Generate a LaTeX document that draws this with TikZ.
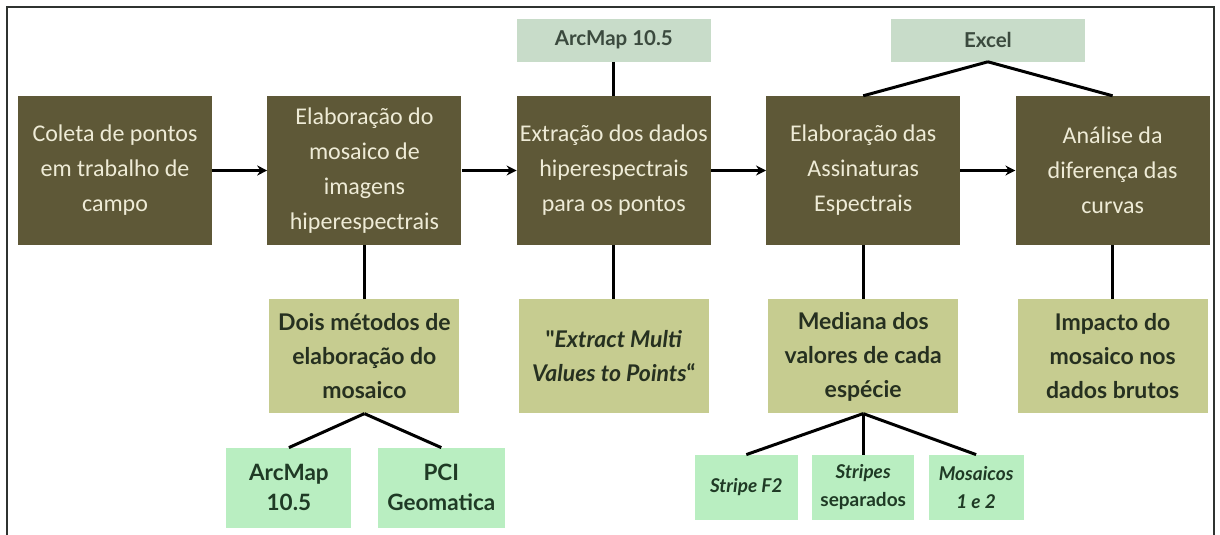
\documentclass[tikz,border=0pt]{standalone}
\usepackage{fontspec}
\setmainfont{Lato}
\newfontfamily\etapafont{Carlito}
\newfontfamily\aspasfont[Ligatures=NoCommon]{Lato}
\usetikzlibrary{arrows.meta,positioning,calc}
\definecolor{etapacor}{HTML}{5E5837}
\definecolor{etapatxt}{HTML}{EEEBD6}
\definecolor{softcor}{HTML}{C8DCC9}
\definecolor{softtxt}{HTML}{3B4A3E}
\definecolor{detcor}{HTML}{C6CC90}
\definecolor{dettxt}{HTML}{263020}
\definecolor{metcor}{HTML}{B9EEC1}
\definecolor{mettxt}{HTML}{1F3A25}
\definecolor{moldcor}{HTML}{2F3330}

\begin{document}
\begin{tikzpicture}[x=1pt,y=1pt,
node distance=55pt and 55pt,
etapa/.style={fill=etapacor,text=etapatxt,minimum width=194pt,minimum height=149pt,inner sep=0pt,align=center,font=\etapafont\fontsize{24}{35}\selectfont},
detalhe/.style={fill=detcor,text=dettxt,minimum width=190pt,minimum height=114pt,inner sep=0pt,align=center,font=\bfseries\fontsize{23}{34}\selectfont},
software/.style={fill=softcor,text=softtxt,minimum width=194pt,minimum height=43pt,inner sep=0pt,font=\bfseries\fontsize{20.5}{24}\selectfont},
metodo/.style={fill=metcor,text=mettxt,minimum height=80pt,inner sep=0pt,align=center,font=\bfseries\fontsize{22.5}{30}\selectfont},
variante/.style={fill=metcor,text=mettxt,minimum height=65pt,inner sep=0pt,align=center,font=\bfseries\itshape\fontsize{19}{28}\selectfont},
arr/.style={-{Stealth[length=10pt,width=10pt]},line width=3pt},
lig/.style={line width=3pt}]
\useasboundingbox (0,0) rectangle (1220,-535);
\draw[moldcor,line width=2.5pt] (7,-540) -- (7,-7) -- (1214,-7) -- (1214,-540);
% etapas
\node[etapa] (coleta) at (115,-170.5) {Coleta de pontos\\em trabalho de\\campo};
\node[etapa,right=of coleta] (mosaico) {Elaboração do\\mosaico de\\imagens\\hiperespectrais};
\node[etapa,right=of mosaico] (extracao) {Extração dos dados\\hiperespectrais\\para os pontos};
\node[etapa,right=of extracao] (assin) {Elaboração das\\Assinaturas\\Espectrais};
\node[etapa,right=of assin] (analise) {Análise da\\diferença das\\curvas};
% softwares
\coordinate (meio) at ($(assin.north)!0.5!(analise.north)$);
\node[software,above=34pt of extracao] (arcmapsw) {ArcMap 10.5};
\node[software,above=34pt of meio] (excel) {Excel};
% detalhes
\node[detalhe,below=54pt of mosaico] (metodos) {Dois métodos de\\elaboração do\\mosaico};
\node[detalhe,below=54pt of extracao] (extract) {{\aspasfont\bfseries\char"22}\textit{Extract Multi}\\\textit{Values to Points}{\normalfont\bfseries“}};
\node[detalhe,below=54pt of assin] (mediana) {Mediana dos\\valores de cada\\espécie};
\node[detalhe,below=54pt of analise] (impacto) {Impacto do\\mosaico nos\\dados brutos};
% metodos
\node[metodo,minimum width=125pt,below=34pt of metodos,xshift=-75.5pt] (arcmap) {ArcMap\\10.5};
\node[metodo,minimum width=127pt,right=26pt of arcmap] (pci) {PCI\\Geomatica};
\node[variante,minimum width=102pt,below=41pt of mediana] (separados) {Stripes\\{\upshape\bfseries separados}};
\node[variante,minimum width=103pt,left=14pt of separados] (stripe) {Stripe F2};
\node[variante,minimum width=95pt,right=14pt of separados] (mosaicos) {Mosaicos\\1 e 2};
% conexoes
\draw[arr] (coleta) -- (mosaico);
\draw[arr] (mosaico) -- (extracao);
\draw[arr] (extracao) -- (assin);
\draw[arr] (assin) -- (analise);
\draw[lig] (arcmapsw) -- (extracao);
\draw[lig] (excel.south) -- (assin.north);
\draw[lig] (excel.south) -- (analise.north);
\draw[lig] (mosaico) -- (metodos);
\draw[lig] (extracao) -- (extract);
\draw[lig] (assin) -- (mediana);
\draw[lig] (analise) -- (impacto);
\draw[lig] (metodos.south) -- (arcmap.north);
\draw[lig] (metodos.south) -- (pci.north);
\draw[lig] (mediana.south) -- (stripe.north);
\draw[lig] (mediana.south) -- (separados.north);
\draw[lig] (mediana.south) -- (mosaicos.north);
\end{tikzpicture}
\end{document}
